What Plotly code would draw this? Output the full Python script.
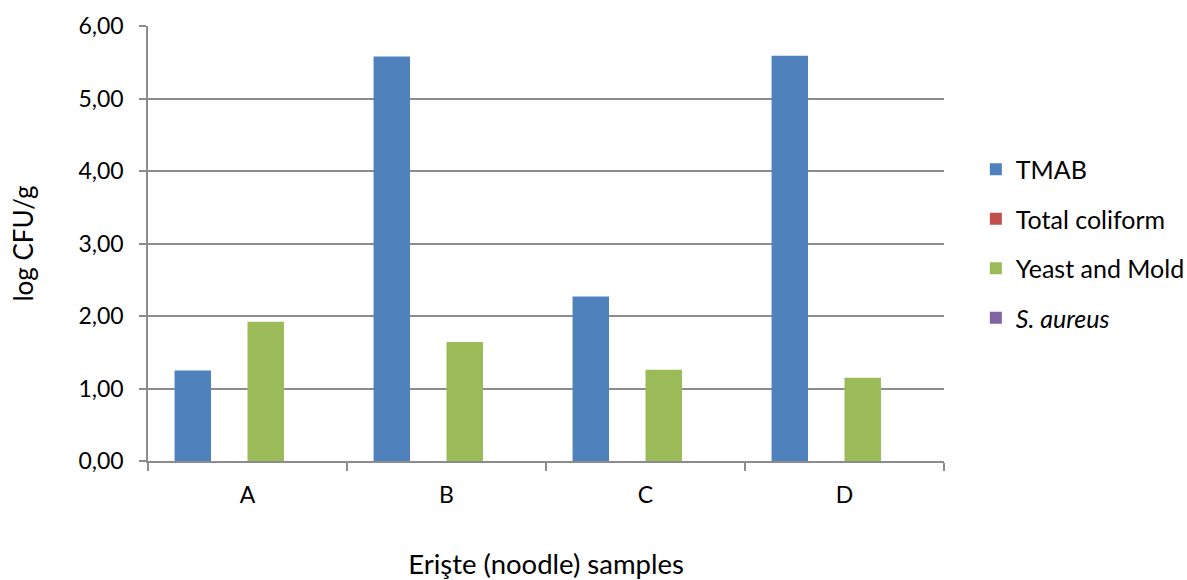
import plotly.graph_objects as go

categories = ["A", "B", "C", "D"]
tmab = [1.25, 5.58, 2.27, 5.59]
total_coliform = [0, 0, 0, 0]
yeast_mold = [1.92, 1.64, 1.26, 1.15]
s_aureus = [0, 0, 0, 0]

series = [
    ("TMAB", tmab, "#4F81BD"),
    ("Total coliform", total_coliform, "#C0504D"),
    ("Yeast and Mold", yeast_mold, "#9BBB59"),
    ("<i>S. aureus</i>", s_aureus, "#8064A2"),
]

FONT = "Lato"
GRID = "#8C8C8C"

fig = go.Figure()
for i, (name, vals, color) in enumerate(series):
    fig.add_trace(go.Bar(
        x=categories, y=vals, name=name, legendgroup=f"g{i}",
        marker=dict(color=color, line=dict(width=0)),
    ))

fig.update_layout(
    width=1187, height=580,
    margin=dict(l=148, r=243, t=26, b=119, autoexpand=False),
    paper_bgcolor="white", plot_bgcolor="white",
    separators=",.",
    barmode="group", bargap=0.267, bargroupgap=0,
    font=dict(family=FONT, size=23, color="#000000"),
    legend=dict(
        x=1.04, xanchor="left", y=0.5, yanchor="middle",
        traceorder="grouped", tracegroupgap=14,
        font=dict(family=FONT, size=25, color="#000000"),
        itemwidth=30,
    ),
    xaxis=dict(
        automargin=False,
        showline=True, linecolor=GRID, linewidth=1.5,
        ticks="outside", ticklen=8, tickcolor=GRID, tickwidth=1.5,
        tickson="boundaries", showgrid=False,
        ticklabelstandoff=13,
        title=dict(text="Erişte (noodle) samples", standoff=47,
                   font=dict(family=FONT, size=27.5)),
    ),
    yaxis=dict(
        automargin=False,
        range=[0, 6], dtick=1, tickformat=".2f",
        showline=True, linecolor=GRID, linewidth=1.5,
        ticks="outside", ticklen=7, tickcolor=GRID, tickwidth=1.5,
        showgrid=True, gridcolor=GRID, gridwidth=1.5,
        zeroline=False,
        ticklabelstandoff=11,
        title=dict(text="log CFU/g", standoff=37,
                   font=dict(family=FONT, size=26)),
    ),
)

fig.write_html("out.html", config={"displayModeBar": False},
               post_script="document.body.style.margin='0';")
